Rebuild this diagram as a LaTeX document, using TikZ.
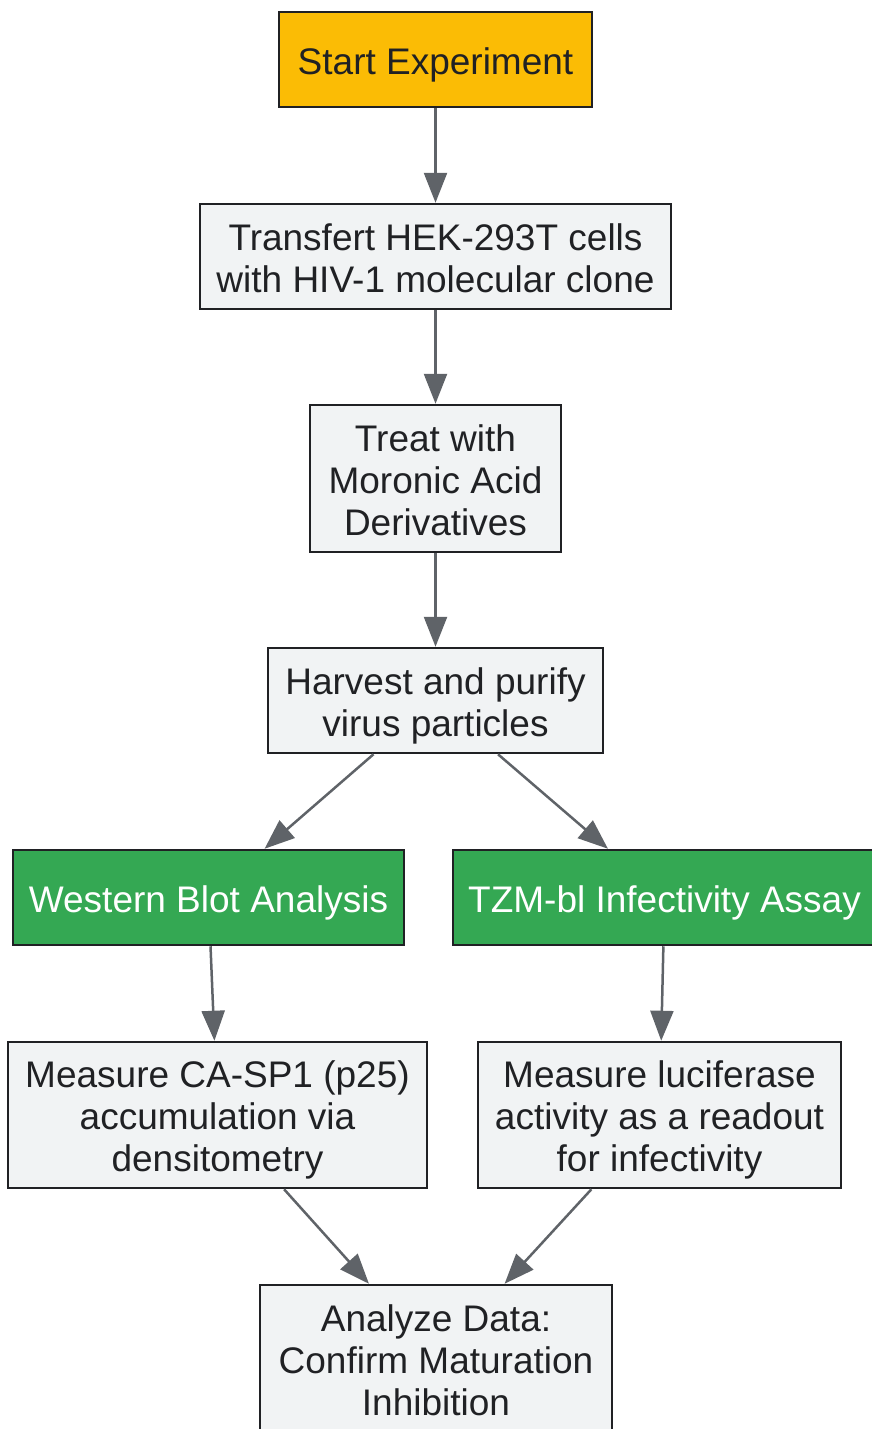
\documentclass[tikz,border=0pt]{standalone}
\usepackage{fontspec}
\setmainfont{Liberation Sans}
\usepackage{tikz}
\usetikzlibrary{arrows.meta}

\definecolor{startfill}{HTML}{FBBC05}
\definecolor{assayfill}{HTML}{34A853}
\definecolor{stepfill}{HTML}{F1F3F4}
\definecolor{boxline}{HTML}{202124}
\definecolor{flowline}{HTML}{5F6368}
\newcommand\topstrut{\rule{0pt}{1.0em}}
\newcommand\botstrut{\rule[-0.212em]{0pt}{0pt}}

\begin{document}
\begin{tikzpicture}[x=1pt,y=-1pt,
  box/.style={draw=boxline,line width=2.5pt,fill=stepfill,text=boxline,align=center,inner sep=0pt,
    font=\fontsize{37}{42}\selectfont},
  startbox/.style={box,fill=startfill},
  assaybox/.style={box,fill=assayfill,text=white},
  flow/.style={draw=flowline,line width=2.5pt,-{Triangle[length=30pt,width=23pt]}}]
\useasboundingbox (0,0) rectangle (871,1429);
\draw (435.5,59.5) node (start) [startbox,minimum width=313pt,minimum height=95pt] {\topstrut Start Experiment\botstrut};
\draw (435.5,256.5) node (transfect) [box,minimum width=471pt,minimum height=105pt] {\topstrut Transfert HEK-293T cells\\with HIV-1 molecular clone\botstrut};
\draw (435.5,478.5) node (treat) [box,minimum width=251pt,minimum height=147pt] {\topstrut Treat with\\Moronic Acid\\Derivatives\botstrut};
\draw (435.5,700.5) node (harvest) [box,minimum width=335pt,minimum height=105pt] {\topstrut Harvest and purify\\virus particles\botstrut};
\draw (208.5,897.5) node (western) [assaybox,minimum width=391pt,minimum height=95pt] {\topstrut Western Blot Analysis\botstrut};
\draw (664.5,897.5) node (tzm) [assaybox,minimum width=423pt,minimum height=95pt] {\topstrut TZM-bl Infectivity Assay\botstrut};
\draw (217.5,1115) node (casp) [box,minimum width=419pt,minimum height=146pt] {\topstrut Measure CA-SP1 (p25)\\accumulation via\\densitometry\botstrut};
\draw (659.5,1115) node (luc) [box,minimum width=363pt,minimum height=146pt] {\topstrut Measure luciferase\\activity as a readout\\for infectivity\botstrut};
\draw (436,1358.5) node (analyze) [box,minimum width=352pt,minimum height=147pt] {\topstrut Analyze Data:\\Confirm Maturation\\Inhibition\botstrut};
\draw[flow] (start) -- (transfect);
\draw[flow] (transfect) -- (treat);
\draw[flow] (treat) -- (harvest);
\draw[flow] (harvest) -- (western);
\draw[flow] (harvest) -- (tzm);
\draw[flow] (western) -- (casp);
\draw[flow] (tzm) -- (luc);
\draw[flow] (casp) -- (analyze);
\draw[flow] (luc) -- (analyze);
\end{tikzpicture}
\end{document}
